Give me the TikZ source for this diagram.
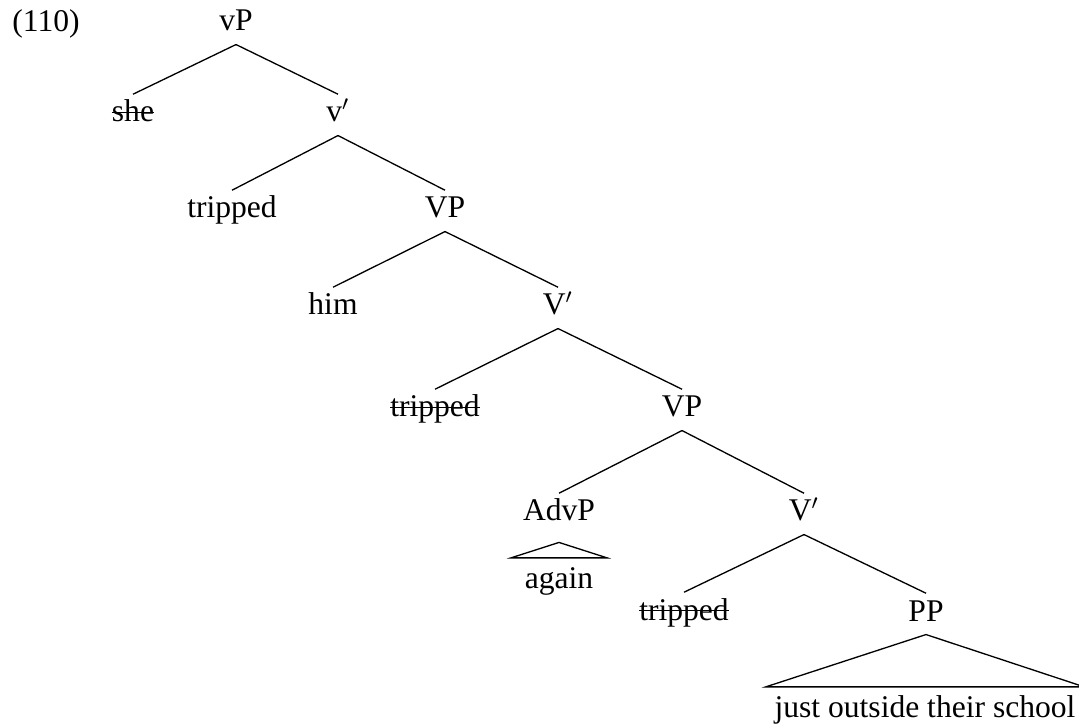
\documentclass[tikz,border=0pt]{standalone}
\usepackage{fontspec}
\setmainfont{Liberation Serif}
\newcommand\struck[1]{\setbox0\hbox{#1}\rlap{\rule[0.27em]{\wd0}{0.45pt}}\box0}
\tikzset{
  cat/.style={anchor=base, inner sep=0pt, text height=10.3pt, text depth=4.9pt},
  roof/.style={anchor=base, inner xsep=0pt, inner ysep=0.9pt, text height=10.3pt, text depth=0pt},
}
\begin{document}
\begin{tikzpicture}[x=0.38pt, y=-0.38pt, font=\fontsize{12}{14}\selectfont, line width=0.5pt]
      \useasboundingbox (0,0) rectangle (1079,725);
      \draw
        (46,32) node[cat] (ex){(110)}
        (236,31) node[cat] (vP){vP}
        (133,122) node[cat] (she){\struck{she}}
        (338,122) node[cat] (v1){v$'$}
        (232,218) node[cat] (tr1){tripped}
        (445,218) node[cat] (VP1){VP}
        (333,315) node[cat] (him){him}
        (558,315) node[cat] (V1){V$'$}
        (435,417) node[cat] (tr2){\struck{tripped}}
        (682,417) node[cat] (VP2){VP}
        (559,521) node[cat] (AdvP){AdvP}
        (804,521) node[cat] (V2){V$'$}
        (559,588) node[roof, minimum width=36pt] (again){again}
        (684,620) node[cat] (tr3){\struck{tripped}}
        (926,621) node[cat] (PP){PP}
        (925,717) node[roof, minimum width=120.5pt] (pp){just outside their school};
      \begin{scope}[-]
        \draw (vP.south) to (she.north);
        \draw (vP.south) to (v1.north);
        \draw (v1.south) to (tr1.north);
        \draw (v1.south) to (VP1.north);
        \draw (VP1.south) to (him.north);
        \draw (VP1.south) to (V1.north);
        \draw (V1.south) to (tr2.north);
        \draw (V1.south) to (VP2.north);
        \draw (VP2.south) to (AdvP.north);
        \draw (VP2.south) to (V2.north);
        \draw (V2.south) to (tr3.north);
        \draw (V2.south) to (PP.north);
        \draw ([yshift=-3pt]AdvP.south) -- (again.north west) -- (again.north east) -- cycle;
        \draw (PP.south) -- (pp.north west) -- (pp.north east) -- cycle;
      \end{scope}
    \end{tikzpicture}
\end{document}
